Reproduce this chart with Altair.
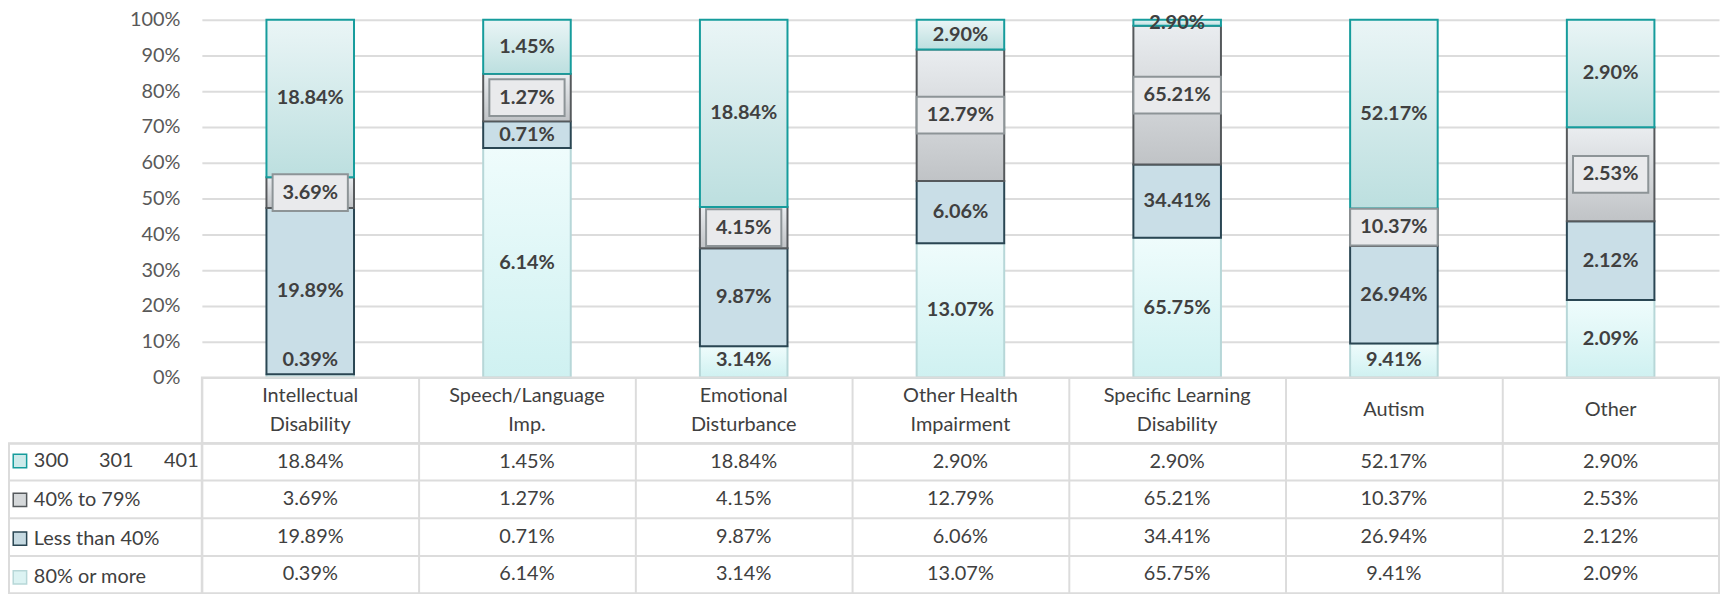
import altair as alt
import pandas as pd

# ---------------- data ----------------
categories = ["Intellectual Disability", "Speech/Language Imp.", "Emotional Disturbance",
              "Other Health Impairment", "Specific Learning Disability", "Autism", "Other"]
NB = "\u00a0"
series = ["300" + NB * 6 + "301" + NB * 6 + "401", "40% to 79%", "Less than 40%", "80% or more"]
v_300 = [18.84, 1.45, 18.84, 2.90, 2.90, 52.17, 2.90]
v_40_79 = [3.69, 1.27, 4.15, 12.79, 65.21, 10.37, 2.53]
v_lt40 = [19.89, 0.71, 9.87, 6.06, 34.41, 26.94, 2.12]
v_80 = [0.39, 6.14, 3.14, 13.07, 65.75, 9.41, 2.09]
y_ticks = [0, 0.1, 0.2, 0.3, 0.4, 0.5, 0.6, 0.7, 0.8, 0.9, 1.0]

rows = []
for si, (s, vals) in enumerate(zip(series, [v_300, v_40_79, v_lt40, v_80])):
    for c, v in zip(categories, vals):
        rows.append({"category": c, "series": s, "order": si, "value": v})
df = pd.DataFrame(rows)

# header text: wrapped at the last space, one row per line
head_rows = []
for c in categories:
    lines = c.rsplit(" ", 1) if " " in c else [c]
    n = len(lines)
    for k, line in enumerate(lines):
        head_rows.append({"category": c, "line": line, "pos": (n - 1) / 2 - k})
df_head = pd.DataFrame(head_rows)
df_series = pd.DataFrame({"series": series})

# ---------------- styles ----------------
FONT = "Lato"
GRID = "#dcdcdc"
TXT = "#404040"
grad = [("#eaf5f6", "#bcdfdf"), ("#eaedf0", "#c0c3c6"), ("#c9dee7", "#c9dee7"), ("#effcfc", "#cff1f1")]
strokes = ["#169c9c", "#55595c", "#2a4653", "#b7d7d8"]
swatch_fills = ["#cdeaea", "#d5d8da", "#c6dae2", "#dcf3f3"]

PLOT_W = 1526
LEFT_W = 194
HEAD_H = 66
LINE_H = 29

band0 = alt.Scale(type="band", paddingInner=0, paddingOuter=0)

base = (alt.Chart(df)
        .transform_stack(stack="value", groupby=["category"], as_=["y0", "y1"], offset="normalize",
                         sort=[alt.SortField("order", order="descending")])
        .transform_calculate(mid="(datum.y0 + datum.y1) / 2")
        .transform_calculate(ly="max(datum.mid, 0.05)",
                             label="format(datum.value, '.2f') + '%'"))

x_bar = alt.X("category:N", sort=categories,
              scale=alt.Scale(type="band", paddingInner=0.596, paddingOuter=0.298), axis=None)
y_axis = alt.Axis(values=y_ticks, format=".0%", grid=True, gridColor=GRID, gridWidth=2,
                  ticks=False, domain=False, labelFont=FONT, labelFontSize=20, labelColor="#595959",
                  labelPadding=22, title=None)
y_scale = alt.Scale(domain=[0, 1], nice=False)


def bar_layer(i):
    top, bottom = grad[i]
    return (base.transform_filter(alt.datum.order == i)
            .mark_bar(fill=alt.LinearGradient(gradient="linear",
                                              stops=[alt.GradientStop(offset=0, color=top),
                                                     alt.GradientStop(offset=1, color=bottom)],
                                              x1=0, x2=0, y1=0, y2=1),
                      stroke=strokes[i], strokeWidth=2)
            .encode(x=x_bar, y=alt.Y("y0:Q", scale=y_scale, axis=y_axis), y2="y1:Q"))


boxes = (base.transform_filter(alt.datum.order == 1)
         .transform_calculate(box="length(datum.label) > 5 ? 'M-1,-0.42L1,-0.42L1,0.42L-1,0.42Z' : "
                                  "'M-0.86,-0.42L0.86,-0.42L0.86,0.42L-0.86,0.42Z'")
         .mark_point(filled=True, fill="#e9eaec", stroke="#8d9497", strokeWidth=2, opacity=1, size=7744)
         .encode(x=x_bar, y=alt.Y("ly:Q", scale=y_scale, axis=y_axis),
                 shape=alt.Shape("box:N", scale=None)))

labels = (base.mark_text(font=FONT, fontSize=20, fontWeight="bold", color=TXT)
          .encode(x=x_bar, y=alt.Y("ly:Q", scale=y_scale, axis=y_axis), text="label:N"))

bars = alt.layer(bar_layer(3), bar_layer(2), bar_layer(1), bar_layer(0), boxes, labels).properties(
    width=PLOT_W, height=360)

grid_axis = dict(grid=True, bandPosition=0, labels=False, ticks=False, domain=False, title=None,
                 gridColor=GRID, gridWidth=2)
view_box = alt.ViewBackground(stroke=GRID, strokeWidth=2)

half = HEAD_H / 2 / LINE_H
header = (alt.Chart(df_head)
          .mark_text(font=FONT, fontSize=20, color=TXT)
          .encode(x=alt.X("category:N", sort=categories, scale=band0, axis=alt.Axis(**grid_axis)),
                  y=alt.Y("pos:Q", scale=alt.Scale(domain=[-half, half], nice=False, zero=False), axis=None),
                  text="line:N")
          .properties(width=PLOT_W, height=HEAD_H, view=view_box))

table = (alt.Chart(df)
         .transform_calculate(label="format(datum.value, '.2f') + '%'")
         .mark_text(font=FONT, fontSize=20, color=TXT)
         .encode(x=alt.X("category:N", sort=categories, scale=band0, axis=alt.Axis(**grid_axis)),
                 y=alt.Y("series:N", sort=series, scale=band0, axis=alt.Axis(**grid_axis)),
                 text="label:N")
         .properties(width=PLOT_W, height=151, view=view_box))

leg_def = alt.Legend(orient="none", legendX=1, legendY=434, direction="vertical", title=None,
                     symbolType="square", symbolSize=182, symbolStrokeWidth=1.5, symbolOpacity=1,
                     labelFont=FONT, labelFontSize=20, labelColor=TXT, rowPadding=19,
                     labelOffset=4, padding=0, labelLimit=300)

leftcol = (alt.Chart(df_series)
           .mark_square(opacity=0)
           .encode(y=alt.Y("series:N", sort=series, scale=band0, axis=alt.Axis(**grid_axis)),
                   fill=alt.Fill("series:N", scale=alt.Scale(domain=series, range=swatch_fills), legend=leg_def),
                   stroke=alt.Stroke("series:N", scale=alt.Scale(domain=series, range=strokes), legend=leg_def))
           .properties(width=LEFT_W, height=151, view=view_box))

empty = pd.DataFrame({"e": [0]})
e1 = alt.Chart(empty).mark_point(opacity=0).properties(width=LEFT_W, height=360)
e2 = alt.Chart(empty).mark_point(opacity=0).properties(width=LEFT_W, height=HEAD_H)

chart = (alt.concat(e1, bars, e2, header, leftcol, table, columns=2, spacing=0, bounds="flush")
         .properties(padding=0)
         .configure(font=FONT)
         .configure_view(stroke=None))

chart.save("out.html", embed_options={"renderer": "svg", "actions": False})
